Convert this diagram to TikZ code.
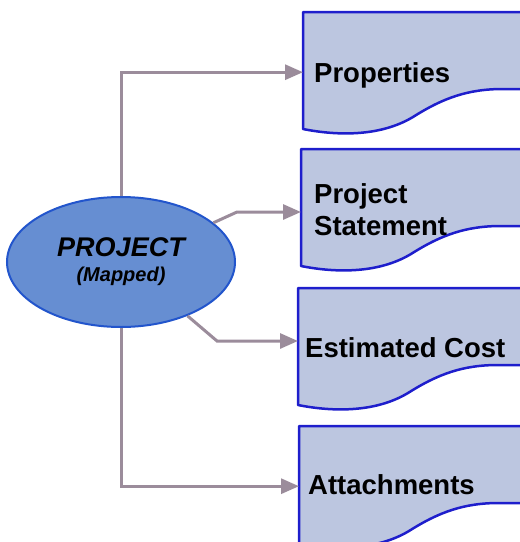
\documentclass[tikz,border=0pt]{standalone}
\usepackage{fontspec}
\setmainfont{Liberation Sans}
\usetikzlibrary{arrows.meta,shapes.geometric}
\definecolor{docfill}{RGB}{188,198,224}
\definecolor{docline}{RGB}{30,30,204}
\definecolor{ellfill}{RGB}{102,142,210}
\definecolor{ellline}{RGB}{34,85,204}
\definecolor{conncol}{RGB}{155,140,155}
\begin{document}
\begin{tikzpicture}[x=1pt,y=-1pt,
  docstyle/.style={draw=docline,fill=docfill,line width=2.5pt,line join=round},
  docshape/.pic={\path[docstyle] (0,0) -- (0,117) .. controls (30,123) and (75,126) .. (110,105) .. controls (140,86) and (165,77) .. (200,77) -- (260,77) -- (260,0) -- cycle;},
  boxarea/.style={anchor=north west,minimum width=217,minimum height=120,inner sep=0,draw=none},
  connector/.style={draw=conncol,line width=3pt,-{Triangle[length=18pt,width=15pt]}},
  lbl/.style={font=\bfseries\fontsize{27.5}{32}\selectfont,inner sep=0,text=black}]
\useasboundingbox (0,0) rectangle (520,542);
\clip (0,0) rectangle (520,542);
% document boxes
\node[boxarea] (b1) at (303,12) {};
\node[boxarea] (b2) at (301,149) {};
\node[boxarea] (b3) at (298,288) {};
\node[boxarea] (b4) at (299,426) {};
\pic at (b1.north west) {docshape};
\pic at (b2.north west) {docshape};
\pic at (b3.north west) {docshape};
\pic at (b4.north west) {docshape};
% central ellipse
\node[ellipse,draw=ellline,fill=ellfill,line width=2pt,minimum width=228,minimum height=130,inner sep=0,align=center,
  font=\bfseries\itshape\fontsize{27}{25}\selectfont] (e) at (121,262)
  {PROJECT\\{\fontsize{20}{25}\selectfont (Mapped)}};
% connectors
\coordinate (k2) at (237,212);
\coordinate (k3) at (217,341);
\draw[connector] (e.north) |- (b1.west);
\draw[connector] (e.23) -- (k2) -- (k2 -| b2.west);
\draw[connector] (e.-39) -- (k3) -- (k3 -| b3.west);
\draw[connector] (e.south) |- (b4.west);
% labels
\node[lbl,anchor=base west] (t1) at (314,82) {Properties};
\node[lbl,anchor=north west,align=left] (t2) at (314,183) {Project\\Statement};
\node[lbl,anchor=base west] (t3) at (305,357) {Estimated Cost};
\node[lbl,anchor=base west] (t4) at (308,494) {Attachments};
\end{tikzpicture}
\end{document}
